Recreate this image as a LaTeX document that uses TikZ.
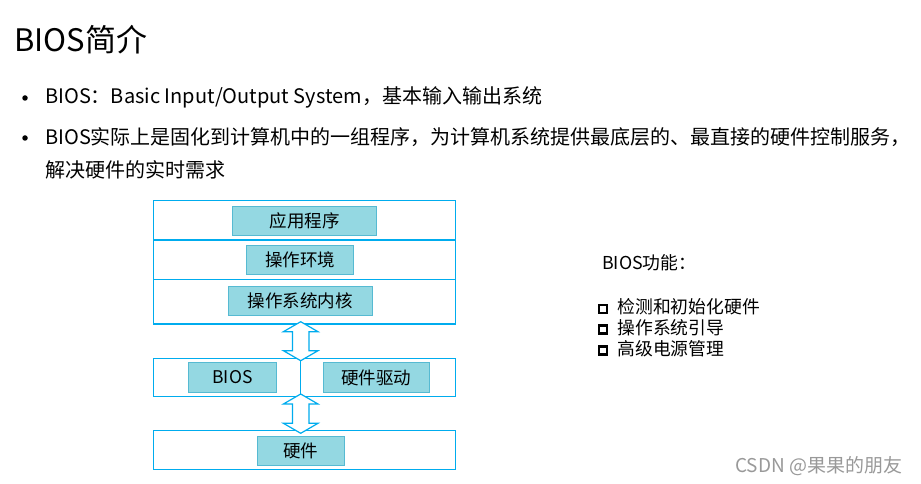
\documentclass[tikz,border=0pt]{standalone}
\usepackage{fontspec}
\setmainfont{Noto Sans CJK SC}
\usetikzlibrary{calc}

\definecolor{layerblue}{RGB}{0,172,238}
\definecolor{tagfill}{RGB}{148,216,226}
\definecolor{tagline}{RGB}{86,186,210}

\newcommand{\layerarrow}[2]{%
  \draw[arrowshape] let \p1=(#1), \p2=(#2) in
    (\x1,\y1) -- (\x1+17.3pt,\y1-10pt) -- (\x1+8.3pt,\y1-10pt)
    -- (\x1+8.3pt,\y2+10pt) -- (\x1+17.3pt,\y2+10pt) -- (\x1,\y2)
    -- (\x1-17.3pt,\y2+10pt) -- (\x1-8.3pt,\y2+10pt)
    -- (\x1-8.3pt,\y1-10pt) -- (\x1-17.3pt,\y1-10pt) -- cycle;}
\newcommand{\boxmark}{\tikz[baseline=-0.5pt]\draw[line width=2.2pt] (0,0) rectangle (8pt,8pt);\hspace{9pt}}

\begin{document}
\begin{tikzpicture}[
    x=1pt, y=-1pt,
    layer/.style={rectangle, draw=layerblue, line width=1.2pt, minimum width=302.4pt, inner sep=0pt},
    tag/.style={rectangle, fill=tagfill, draw=tagline, line width=0.6pt, inner sep=0pt, font=\fontsize{17.5}{20}\selectfont},
    arrowshape/.style={draw=layerblue, fill=white, line width=1.2pt, line join=miter},
    bullet/.style={anchor=west, inner sep=0pt, font=\fontsize{20}{24}\selectfont},
    dot/.style={circle, fill=black, inner sep=0pt, minimum size=5.5pt},
    func/.style={anchor=west, inner sep=0pt, font=\fontsize{17.8}{21}\selectfont}
]
\useasboundingbox (0,0) rectangle (921,484);

% Title and bullets
\node[anchor=west, inner sep=0pt, font=\fontsize{31}{36}\selectfont] (title) at (14,40) {BIOS简介};
\node[dot] (dot1) at (25,98) {};
\node[bullet] (item1) at (45,97) {BIOS：Basic Input/Output System，基本输入输出系统};
\node[dot] (dot2) at (25,138) {};
\node[bullet] (item2) at (45,137) {BIOS实际上是固化到计算机中的一组程序，为计算机系统提供最底层的、最直接的硬件控制服务，};
\node[bullet] (item3) at (45,170) {解决硬件的实时需求};

% Layers
\node[layer, minimum height=39.3pt] (apps) at (304.5,220.35) {};
\node[layer, minimum height=39.3pt] (env) at (304.5,259.65) {};
\node[layer, minimum height=44.7pt] (kern) at (304.5,301.65) {};
\node[layer, minimum height=38.4pt] (mid) at (304.5,377.5) {};
\node[layer, minimum height=38.6pt] (hw) at (304.5,450) {};

% Labels
\node[tag, minimum width=144.4pt, minimum height=29pt] (appstag) at (304.5,220.5) {应用程序};
\node[tag, minimum width=106.6pt, minimum height=29.3pt] (envtag) at (300,259.7) {操作环境};
\node[tag, minimum width=144pt, minimum height=29.4pt] (kerntag) at (300.3,301) {操作系统内核};
\node[tag, minimum width=88.4pt, minimum height=29.6pt] (biostag) at (232.5,377.5) {BIOS};
\node[tag, minimum width=106pt, minimum height=29.6pt] (drvtag) at (376.3,377.5) {硬件驱动};
\node[tag, minimum width=86.7pt, minimum height=29pt] (hwtag) at (300.7,451.2) {硬件};

% Divider and arrows
\coordinate (axistop) at (300.7,321.7);
\coordinate (axismid) at (300.7,360.7);
\coordinate (axislow) at (300.7,394);
\coordinate (axisbot) at (300.7,433.3);
\draw[layerblue, line width=1.2pt] (axismid) -- (axislow);
\layerarrow{axistop}{axismid}
\layerarrow{axislow}{axisbot}

% Functions
\node[func] (functitle) at (602,263) {BIOS功能：};
\node[func] (f1) at (598,306.7) {\boxmark 检测和初始化硬件};
\node[func] (f2) at (598,327.3) {\boxmark 操作系统引导};
\node[func] (f3) at (598,348.3) {\boxmark 高级电源管理};

% Watermark
\node[anchor=west, inner sep=0pt, text=black!40, font=\fontsize{19}{22}\selectfont] (mark) at (735,466) {CSDN @果果的朋友};
\end{tikzpicture}
\end{document}
